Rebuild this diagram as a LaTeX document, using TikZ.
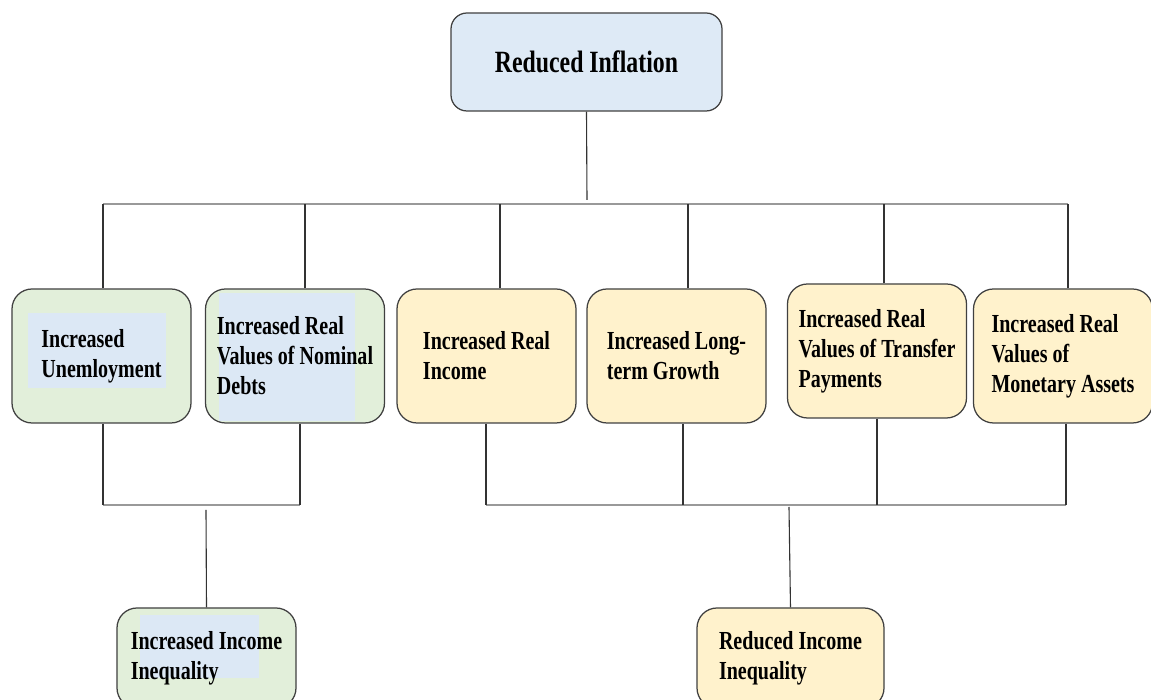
\documentclass[tikz,border=0pt]{standalone}
\usepackage{fontspec}
\usepackage{xcolor}
\newfontfamily\boxfont[FakeStretch=0.77]{Liberation Serif}
\usetikzlibrary{calc}

\definecolor{topblue}{HTML}{DEEAF6}
\definecolor{hlblue}{HTML}{DCE8F5}
\definecolor{boxgreen}{HTML}{E2EFDA}
\definecolor{boxyellow}{HTML}{FFF2CC}
\definecolor{edgegray}{HTML}{404040}

\begin{document}
\begin{tikzpicture}[x=0.2mm, y=-0.2mm, line width=0.25mm,
    box/.style={draw=edgegray, rounded corners=4mm, minimum width=35.8mm,
        minimum height=26.8mm, inner sep=0pt, align=left,
        font=\boxfont\bfseries\fontsize{14.8}{17.1}\selectfont},
    greenbox/.style={box, fill=boxgreen},
    yellowbox/.style={box, fill=boxyellow},
    hilite/.style n args={4}{path picture={
        \fill[hlblue, sharp corners] ($(path picture bounding box.north west)+(#1,#2)$)
            rectangle ($(path picture bounding box.north west)+(#3,#4)$);}},
    stem/.style={draw=black!80, line width=0.22mm},
    bus/.style={draw=black!40, line width=0.25mm}]
    \useasboundingbox (0,0) rectangle (1151,700);

    % 顶部
    \node[box, fill=topblue, minimum width=54.2mm, minimum height=19.6mm,
        rounded corners=3.2mm, font=\boxfont\bfseries\fontsize{17.6}{20}\selectfont]
        (infl) at (586.5,62) {Reduced Inflation};

    % 第二行
    \node[greenbox, hilite={16}{24}{154}{99}] (unemp) at (101.5,356)
        {Increased\\Unemloyment};
    \node[greenbox, hilite={13.5}{4}{149.5}{132}] (debts) at (295,356)
        {Increased Real\\Values of Nominal\\Debts};
    \node[yellowbox] (income) at (486.5,356) {Increased Real\\Income};
    \node[yellowbox] (growth) at (676.5,356) {Increased Long-\\term Growth};
    \node[yellowbox] (transfer) at (877,351)
        {Increased Real\\Values of Transfer\\Payments};
    \node[yellowbox] (assets) at (1063,356)
        {Increased Real\\Values of\\Monetary Assets};

    % 底部
    \node[greenbox, minimum height=20mm, hilite={23}{7}{142}{70}] (incineq)
        at (206.5,658) {Increased Income\\Inequality};
    \node[yellowbox, minimum width=37.4mm, minimum height=20mm] (redineq)
        at (790.5,658) {Reduced Income\\Inequality};

    % 上方连线
    \coordinate (hub) at (587,204);
    \draw[stem] (infl.south) -- ([yshift=0.8mm]hub);
    \draw[bus] ([xshift=0.3mm]unemp.north |- hub) -- ([xshift=1mm]assets.north |- hub);
    \foreach \n/\dx in {unemp/1.5, debts/10, income/13.5, growth/11.5, transfer/7, assets/5}
        \draw[stem] ([xshift=\dx*0.2mm]\n.north) -- ([xshift=\dx*0.2mm]\n.north |- hub);

    % 下方连线
    \coordinate (joinL) at (206,505);
    \coordinate (joinR) at (789,505);
    \draw[bus] ([xshift=0.3mm]unemp.south |- joinL) -- ([xshift=1mm]debts.south |- joinL);
    \draw[bus] ([xshift=-0.1mm]income.south |- joinR) -- ([xshift=0.6mm]assets.south |- joinR);
    \foreach \n/\dx in {unemp/1.5, debts/5, income/-0.5, growth/6.5, transfer/0, assets/3}
        \draw[stem] ([xshift=\dx*0.2mm]\n.south) -- ([xshift=\dx*0.2mm]\n.south |- joinL);
    \draw[stem] ([yshift=-1mm]joinL) -- (incineq.north);
    \draw[stem] ([yshift=-0.4mm]joinR) -- (redineq.north);
\end{tikzpicture}
\end{document}
